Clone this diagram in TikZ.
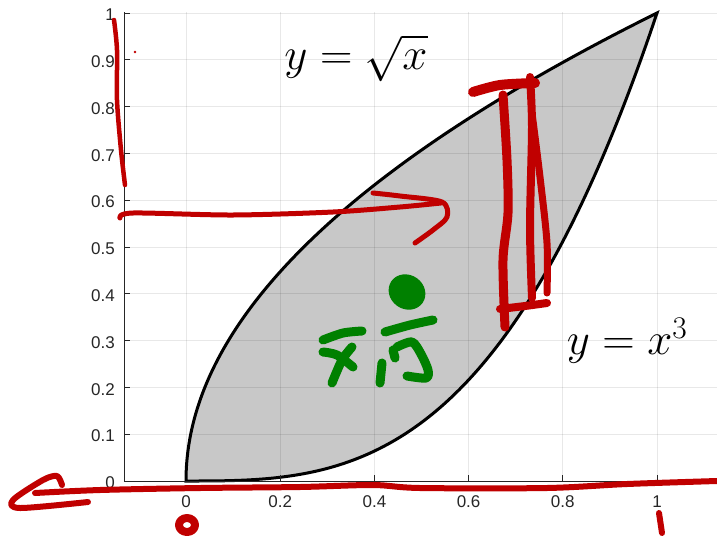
\RequirePackage{fix-cm}
\documentclass[tikz,border=0pt]{standalone}
\usepackage{fontspec}
\newfontfamily\axisfont{Liberation Sans}
\usepackage{tikz}
\usetikzlibrary{positioning}
\definecolor{axisgray}{RGB}{38,38,38}
\definecolor{regiongray}{RGB}{200,200,200}
\definecolor{inkred}{RGB}{192,0,0}
\definecolor{inkgreen}{RGB}{0,128,0}
\tikzstyle{gridline} = [black, opacity=0.09, line width=1pt]
\tikzstyle{axisline} = [axisgray, line width=0.9pt]
\tikzstyle{ticklabel} = [font=\fontsize{17}{20}\selectfont\axisfont, text=axisgray, inner sep=0pt]
\tikzstyle{curvelabel} = [font=\fontsize{45}{54}\selectfont, inner sep=0pt]
\tikzstyle{redink} = [draw=inkred, line width=6pt, line cap=round, line join=round]
\tikzstyle{greenink} = [draw=inkgreen, line width=9pt, line cap=round, line join=round]

\begin{document}
\begin{tikzpicture}[x=1pt, y=-1pt]
        \useasboundingbox (0,0) rectangle (717,541);

        % Daerah antara kedua kurva (koordinat data)
        \begin{scope}[shift={(186pt,-481pt)}, x=471pt, y=468pt]
            \fill[regiongray] plot[domain=0:1, samples=120, variable=\t] ({\t*\t},\t)
                -- plot[domain=1:0, samples=120, variable=\t] (\t,{\t*\t*\t}) -- cycle;
            \foreach \gx in {0,0.2,0.4,0.6,0.8,1}
                \draw[gridline] (\gx,0) -- (\gx,1.002);
            \foreach \gy in {0.1,0.2,0.3,0.4,0.5,0.6,0.7,0.8,0.9,1}
                \draw[gridline] (-0.1316,\gy) -- (1.13,\gy);
            \draw[black, line width=3pt, line join=miter] plot[domain=0:1, samples=120, variable=\t] ({\t*\t},\t)
                -- plot[domain=1:0, samples=120, variable=\t] (\t,{\t*\t*\t}) -- cycle;

            % Label sumbu
            \foreach \v [count=\i] in {0,0.1,0.2,0.3,0.4,0.5,0.6,0.7,0.8,0.9,1}
                \node[ticklabel, anchor=east] (ylab\i) at (-0.1507,\v-0.004) {\v};
            \foreach \v [count=\i] in {0,0.2,0.4,0.6,0.8,1}
                \node[ticklabel] (xlab\i) at (\v,-0.044) {\v};
        \end{scope}

        % Sumbu dan tick
        \draw[axisline] (124,12) -- (124,481) -- (717,481);
        \foreach \py in {434.2,387.4,340.6,293.8,247,200.2,153.4,106.6,59.8,13}
            \draw[axisline] (124,\py) -- (130,\py);
        \foreach \px in {280.2,374.4,468.6,562.8,657}
            \draw[axisline] (\px,481) -- (\px,475);

        % Nama kurva
        \node[curvelabel] (sqrtlab) at (356,58) {$y=\sqrt{x}$};
        \node[curvelabel] (cubelab) at (627,341) {$y=x^3$};

        % Coretan merah
        \draw[redink, line width=4.5pt] plot[smooth] coordinates {(114,20) (117,50) (117,100) (121,150) (125,185)};
        \fill[inkred] (135,52) circle[radius=1.3pt];
        \draw[redink, line width=5pt] plot[smooth] coordinates {(120,218) (133,213) (233,215) (333,212) (400,207) (441,203)};
        \draw[redink, line width=5pt] plot[smooth] coordinates {(373,193) (400,196) (442,202) (447,217) (433,230) (415,243)};
        \draw[redink, line width=10pt] plot[smooth] coordinates {(473,92) (500,85) (535,83)};
        \draw[redink, line width=9pt] plot[smooth] coordinates {(503,95) (507,160) (508,213) (503,260) (505,327)};
        \draw[redink, line width=8pt] plot[smooth] coordinates {(530,77) (532,127) (530,227) (532,298)};
        \draw[redink, line width=7pt] plot[smooth] coordinates {(532,113) (540,177) (547,243) (547,293)};
        \draw[redink, line width=8pt] plot[smooth] coordinates {(500,309) (525,306) (547,303)};
        \draw[redink] plot[smooth] coordinates {(35,493) (100,490) (200,488) (300,487) (373,485) (420,488) (547,488) (627,484) (717,481)};
        \draw[redink] plot[smooth] coordinates {(62,485) (57,476) (43,480) (13,500) (20,508) (88,502)};
        \draw[redink, line width=8pt] (187,525) ellipse [x radius=8pt, y radius=7pt];
        \draw[redink] (659,513) -- (662,533);

        % Coretan hijau (titik berat)
        \fill[inkgreen, rotate around={-35:(407,292)}] (407,292) ellipse [x radius=19pt, y radius=17pt];
        \draw[greenink] plot[smooth] coordinates {(323,340) (343,333) (362,331)};
        \draw[greenink] plot[smooth] coordinates {(323,352) (337,355) (353,367)};
        \draw[greenink] plot[smooth] coordinates {(352,347) (342,360) (332,383)};
        \draw[greenink] (382,363) -- (380,383);
        \draw[greenink] plot[smooth] coordinates {(385,332) (410,325) (433,320)};
        \draw[greenink] (393,350) -- (395,358);
        \draw[greenink] plot[smooth] coordinates {(397,347) (412,342) (421,354) (428,370) (426,378) (407,376)};
    \end{tikzpicture}
\end{document}
